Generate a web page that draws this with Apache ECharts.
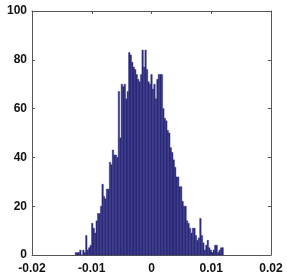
<!DOCTYPE html>
<html>
<head>
<meta charset="utf-8">
<script src="https://cdn.jsdelivr.net/npm/echarts@6/dist/echarts.min.js"></script>
<style>html,body{margin:0;padding:0;background:#fff}#c{width:287px;height:280px}</style>
</head>
<body>
<div id="c"></div>
<script>
// Histogram: first bin left edge and bin width (data units)
var binStart = -0.01277;
var binWidth = 0.000248;
// Counts per bin (100 bins)
var counts = [
  1, 1, 1, 2, 0, 2, 1, 8, 2, 3,
  4, 13, 11, 9, 14, 17, 17, 20, 29, 24,
  23, 27, 27, 38, 37, 43, 41, 41, 40, 67,
  48, 70, 69, 70, 64, 67, 83, 82, 79, 77,
  76, 74, 72, 71, 74, 84, 77, 84, 76, 71,
  70, 74, 68, 70, 64, 72, 74, 74, 74, 60,
  56, 55, 51, 50, 44, 42, 39, 36, 32, 32,
  28, 28, 22, 20, 20, 14, 13, 11, 9, 11,
  11, 8, 6, 7, 15, 8, 5, 2, 4, 6,
  3, 2, 1, 2, 4, 4, 1, 2, 3, 3
];
var xTicks = [-0.02, -0.01, 0, 0.01, 0.02];
var yTicks = [0, 20, 40, 60, 80, 100];

var data = counts.map(function (c, i) {
  return [binStart + i * binWidth, binStart + (i + 1) * binWidth, c];
});

var chart = echarts.init(document.getElementById('c'), null, {renderer: 'canvas'});
var lineStyle = {color: '#555', width: 1};
var font = {fontFamily: 'Liberation Sans, Arial, sans-serif', fontSize: 12, fontWeight: 'bold', color: '#111'};
chart.setOption({
  animation: false,
  grid: {left: 32, right: 16, top: 11, bottom: 25},
  xAxis: [{
    type: 'value', min: -0.02, max: 0.02, interval: 0.01,
    axisLine: {show: true, lineStyle: lineStyle, onZero: false},
    axisTick: {show: true, inside: true, length: 3, lineStyle: lineStyle},
    axisLabel: Object.assign({margin: 8, formatter: function (v) {
      return Math.abs(v) < 1e-12 ? '0' : String(Number(v.toFixed(4)));
    }}, font),
    splitLine: {show: false}
  }, {
    type: 'value', min: -0.02, max: 0.02, interval: 0.01, position: 'top',
    axisLine: {show: true, lineStyle: lineStyle, onZero: false},
    axisTick: {show: true, inside: true, length: 3, lineStyle: lineStyle},
    axisLabel: {show: false}, splitLine: {show: false}
  }],
  yAxis: [{
    type: 'value', min: 0, max: 100, interval: 20,
    axisLine: {show: true, lineStyle: lineStyle, onZero: false},
    axisTick: {show: true, inside: true, length: 3, lineStyle: lineStyle},
    axisLabel: Object.assign({margin: 5}, font),
    splitLine: {show: false}
  }, {
    type: 'value', min: 0, max: 100, interval: 20, position: 'right',
    axisLine: {show: true, lineStyle: lineStyle, onZero: false},
    axisTick: {show: true, inside: true, length: 3, lineStyle: lineStyle},
    axisLabel: {show: false}, splitLine: {show: false}
  }],
  series: [{
    type: 'custom',
    xAxisIndex: 0, yAxisIndex: 0,
    encode: {x: [0, 1], y: 2},
    data: data,
    renderItem: function (params, api) {
      var p0 = api.coord([api.value(0), api.value(2)]);
      var p1 = api.coord([api.value(1), 0]);
      return {
        type: 'rect',
        shape: {x: p0[0], y: p0[1], width: p1[0] - p0[0], height: p1[1] - p0[1]},
        style: {fill: '#2c2a7c', stroke: '#2c2a7c', lineWidth: 0.4}
      };
    }
  }]
});
</script>
</body>
</html>
